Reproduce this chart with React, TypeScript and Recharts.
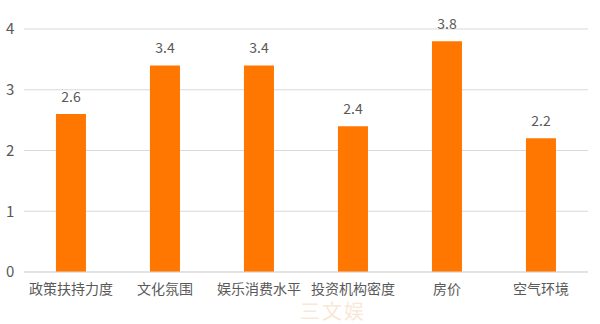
import * as React from 'react';
import { Bar, BarChart, CartesianGrid, LabelList, XAxis, YAxis } from 'recharts';

const categories = ['政策扶持力度', '文化氛围', '娱乐消费水平', '投资机构密度', '房价', '空气环境'];
const scores = [2.6, 3.4, 3.4, 2.4, 3.8, 2.2];
const yTicks = [0, 1, 2, 3, 4];

const data = categories.map((name, i) => ({ name, value: scores[i] }));

const FONT = '"Noto Sans CJK SC", "Liberation Sans", sans-serif';
const TEXT = '#595959';

export default function App() {
  return (
    <div style={{ position: 'absolute', left: 0, top: 0, width: 600, height: 324, background: '#fff', fontFamily: FONT }}>
      <BarChart
        width={600}
        height={324}
        data={data}
        margin={{ top: 29, right: 12, left: 0, bottom: 0 }}
        barCategoryGap="34%"
      >
        <CartesianGrid vertical={false} stroke="#d9d9d9" />
        <XAxis
          dataKey="name"
          height={52}
          axisLine={{ stroke: '#d9d9d9' }}
          tickLine={false}
          tick={{ fill: TEXT, fontSize: 14, fontFamily: FONT }}
          tickMargin={6}
        />
        <YAxis
          width={24}
          domain={[0, 4]}
          ticks={yTicks}
          axisLine={false}
          tickLine={false}
          tick={{ fill: TEXT, fontSize: 15, fontFamily: FONT, textAnchor: 'start', dx: -10 }}
        />
        <Bar dataKey="value" fill="#ff7700" isAnimationActive={false}>
          <LabelList dataKey="value" position="top" offset={12} fill={TEXT} fontSize={14} fontFamily={FONT} />
        </Bar>
      </BarChart>
      <div
        style={{
          position: 'absolute',
          left: 300,
          top: 296,
          fontSize: 20,
          color: '#f8e8d8',
          fontFamily: FONT,
          letterSpacing: 2,
        }}
      >
        三文娱
      </div>
    </div>
  );
}
